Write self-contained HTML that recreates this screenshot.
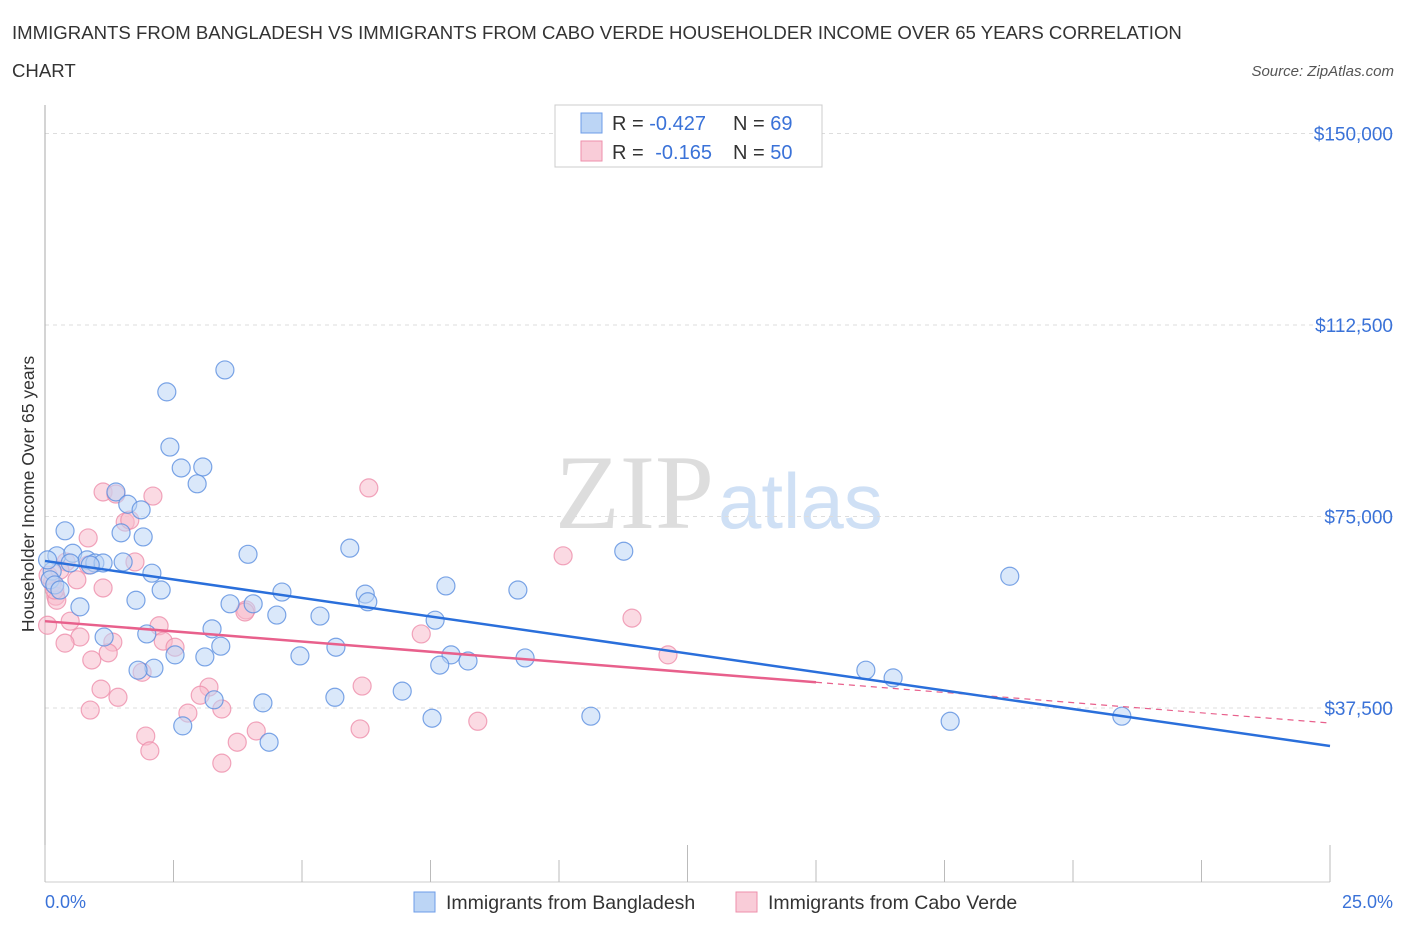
<!DOCTYPE html>
<html><head><meta charset="utf-8"><style>
body{margin:0;background:#fff;font-family:"Liberation Sans",sans-serif}
svg{display:block}
</style></head><body>
<svg width="1406" height="930" viewBox="0 0 1406 930">
<text x="12" y="39" font-size="18.6" fill="#333">IMMIGRANTS FROM BANGLADESH VS IMMIGRANTS FROM CABO VERDE HOUSEHOLDER INCOME OVER 65 YEARS CORRELATION</text>
<text x="12" y="77" font-size="18.6" fill="#333">CHART</text>
<text x="1394" y="76" font-size="15" fill="#555" font-style="italic" text-anchor="end">Source: ZipAtlas.com</text>
<g>
<text x="555" y="528" font-size="106" fill="#ddd" font-family="Liberation Serif,serif">ZIP</text>
<text x="718" y="528" font-size="78" fill="#cfe0f5">atlas</text>
</g>
<g id="grid"></g>
<g id="axes"></g>
<g id="marks"></g>
<text transform="translate(34,494) rotate(-90)" font-size="17.5" fill="#333" text-anchor="middle">Householder Income Over 65 years</text>
<text x="45" y="908" font-size="18" fill="#3a72d8">0.0%</text>
<text x="1393" y="908" font-size="18" fill="#3a72d8" text-anchor="end">25.0%</text>
<g>
<rect x="555" y="105" width="267" height="62" fill="#fff" stroke="#ccc"/>
<rect x="581" y="113" width="21" height="20" fill="#bcd5f5" stroke="#6d9ce8"/>
<rect x="581" y="141" width="21" height="20" fill="#f9ccd8" stroke="#ee8fab"/>
<text x="612" y="130" font-size="20" fill="#333">R = <tspan fill="#3a72d8">-0.427</tspan><tspan x="733">N = </tspan><tspan fill="#3a72d8">69</tspan></text>
<text x="612" y="159" font-size="20" fill="#333">R = <tspan fill="#3a72d8" dx="6">-0.165</tspan><tspan x="733">N = </tspan><tspan fill="#3a72d8">50</tspan></text>
</g>
<g>
<rect x="414" y="892" width="21" height="20" fill="#bcd5f5" stroke="#6d9ce8"/>
<text x="446" y="909" font-size="19.5" fill="#333">Immigrants from Bangladesh</text>
<rect x="736" y="892" width="21" height="20" fill="#f9ccd8" stroke="#ee8fab"/>
<text x="768" y="909" font-size="19.5" fill="#333">Immigrants from Cabo Verde</text>
</g>
</svg>
<script>
const yTicks=[150000,112500,75000,37500];
const yTickLabels=["$150,000","$112,500","$75,000","$37,500"];
const xTicks=[0,2.5,5,7.5,10,12.5,15,17.5,20,22.5,25];
const bdX=[3.50,2.37,2.43,2.65,3.07,2.96,1.38,1.61,1.87,0.39,1.48,1.91,5.93,11.26,3.95,0.23,0.54,0.82,0.97,1.13,1.52,0.14,2.08,18.77,7.80,9.20,2.26,4.61,6.23,1.77,3.60,4.05,6.28,0.68,4.51,5.35,7.59,3.25,1.98,1.15,5.66,3.42,2.53,3.11,4.96,7.90,9.34,8.23,7.68,2.12,1.81,15.97,16.50,6.95,5.64,3.29,4.24,7.53,10.62,17.61,20.95,2.68,4.36,0.10,0.05,0.19,0.49,0.29,0.88];
const bdY=[103700,99400,88600,84500,84700,81400,79800,77400,76300,72200,71800,71000,68800,68200,67600,67300,67800,66500,65900,65900,66100,64300,63900,63300,61400,60600,60600,60200,59800,58600,57900,57900,58300,57300,55700,55500,54700,53000,52000,51400,49400,49600,47900,47500,47700,47900,47300,46700,45900,45300,44900,44900,43400,40800,39600,39100,38500,35500,35900,34900,35900,34000,30800,62600,66500,61600,65900,60600,65500];
const cvX=[6.30,1.13,1.38,2.10,1.56,0.84,1.75,10.08,0.41,0.62,0.14,1.13,0.21,0.23,11.42,3.91,7.32,2.22,0.49,0.05,0.68,0.39,1.32,2.30,2.53,1.23,0.91,12.12,1.89,1.09,3.19,3.02,6.17,3.44,1.42,2.78,0.88,6.13,8.42,4.11,1.96,3.74,2.04,3.44,0.19,0.06,0.29,0.84,1.65,3.89];
const cvY=[80600,79800,79400,79000,73900,70800,66100,67300,66100,62600,62000,61000,59400,58600,55100,56700,52000,53600,54500,53700,51400,50200,50400,50600,49400,48300,46900,47900,44500,41200,41600,40000,41800,37300,39600,36500,37100,33400,34900,33000,32000,30800,29100,26700,60600,63500,64500,65500,74300,56300];
const bdTrend=[66300,30050];
const cvTrend=[54500,34560];
const cvSolidEnd=15;
const NS="http://www.w3.org/2000/svg";
const sx=v=>45+v/25*1285;
const sy=v=>899.5-v/37500*191.5;
function mk(tag,attrs,parent){const e=document.createElementNS(NS,tag);for(const k in attrs)e.setAttribute(k,attrs[k]);parent.appendChild(e);return e;}
const grid=document.getElementById('grid'),axes=document.getElementById('axes'),marks=document.getElementById('marks');
yTicks.forEach((t,i)=>{
 const l=mk('line',{x1:45,x2:1395,y1:sy(t),y2:sy(t),stroke:'#ddd','stroke-dasharray':'4,4'},grid);
 
 
 const tx=mk('text',{x:1393,y:sy(t)+7,'font-size':19,fill:'#3a72d8','text-anchor':'end'},grid);
 tx.textContent=yTickLabels[i];
 
 
});
const ax=mk('line',{x1:45,x2:1330,y1:882,y2:882,stroke:'#ccc'},axes);


const ay=mk('line',{x1:45,x2:45,y1:105,y2:882,stroke:'#aaa'},axes);


xTicks.forEach((t,i)=>{
 const tk=mk('line',{x1:sx(t),x2:sx(t),y1:(i%5===0?845:860),y2:882,stroke:'#bbb'},axes);
 
 
});
function dots(X,Y,fill,stroke,name){X.forEach((x,i)=>{
 const c=mk('circle',{cx:sx(x),cy:sy(Y[i]),r:9,fill:fill,'fill-opacity':0.55,stroke:stroke,'stroke-opacity':0.8,'stroke-width':1.2},marks);
 
 
});}
dots(cvX,cvY,'#f7bccc','#ee8fab','point-caboverde');
dots(bdX,bdY,'#bcd5f5','#5b8ee0','point-bangladesh');
const cvAt=x=>cvTrend[0]+(cvTrend[1]-cvTrend[0])*x/25;
const t1=mk('line',{x1:sx(0),y1:sy(cvTrend[0]),x2:sx(cvSolidEnd),y2:sy(cvAt(cvSolidEnd)),stroke:'#e8608c','stroke-width':2.5},marks);


const t2=mk('line',{x1:sx(cvSolidEnd),y1:sy(cvAt(cvSolidEnd)),x2:sx(25),y2:sy(cvTrend[1]),stroke:'#e8608c','stroke-width':1.2,'stroke-dasharray':'6,5'},marks);


const t3=mk('line',{x1:sx(0),y1:sy(bdTrend[0]),x2:sx(25),y2:sy(bdTrend[1]),stroke:'#2a6fdb','stroke-width':2.5},marks);


</script>
</body></html>
